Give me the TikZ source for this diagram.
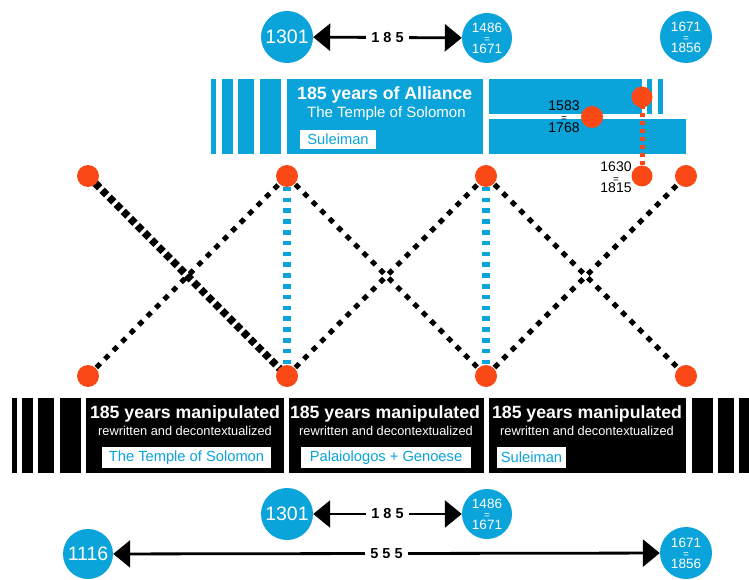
\documentclass[tikz,border=0pt]{standalone}
\usepackage{fontspec}
\setmainfont{Liberation Sans}
\usetikzlibrary{arrows.meta,backgrounds}
\definecolor{sky}{RGB}{10,163,218}
\definecolor{dotred}{RGB}{250,72,22}
\tikzset{
  year/.style={circle,fill=sky,text=white,inner sep=0pt,minimum size=#1,font=\fontsize{19.5}{20}\selectfont},
  year/.default=52pt,
  pair/.style={circle,fill=sky,text=white,inner sep=0pt,minimum size=#1,align=center,font=\fontsize{13.5}{10.5}\selectfont},
  pair/.default=50pt,
  dot/.style={circle,fill=dotred,inner sep=0pt,minimum size=22pt},
  datelbl/.style={inner sep=0pt,align=center,text=black,font=\fontsize{14}{11}\selectfont},
  span/.style={line width=2.8pt,{Triangle[length=17pt,width=27pt]}-{Triangle[length=17pt,width=27pt]}},
  spanlabel/.style={fill=white,inner xsep=5pt,inner ysep=3pt,font=\bfseries\fontsize{14.5}{14}\selectfont},
  head/.style={inner sep=0pt,text=white,font=\bfseries\fontsize{17.7}{18}\selectfont},
  sub/.style={inner sep=0pt,text=white,font=\fontsize{12.8}{13}\selectfont},
  subbig/.style={inner sep=0pt,text=white,font=\fontsize{15}{15}\selectfont},
  tag/.style={fill=white,text=sky,inner sep=0pt,minimum height=21pt,font=\fontsize{14.7}{15}\selectfont},
  heavydots/.style={line width=7.5pt,dash pattern=on 6.5pt off 3.5pt},
  lightdots/.style={line width=5pt,dash pattern=on 5.5pt off 6.5pt},
  bluedash/.style={sky,line width=8pt,dash pattern=on 4.5pt off 6.3pt},
  reddots/.style={dotred,line width=5pt,dash pattern=on 4.5pt off 3.5pt},
}
\newcommand{\eqpair}[2]{#1\\{\fontsize{10}{10}\selectfont =}\\#2}
\begin{document}
\begin{tikzpicture}[x=1pt,y=-1pt]
\useasboundingbox (0,0) rectangle (749,580);

% ---- top year circles and arrow
\node[year] (t1301) at (287,37) {1301};
\node[pair] (t1486) at (487,38) {\eqpair{1486}{1671}};
\node[pair=52pt] (t1671) at (686,37) {\eqpair{1671}{1856}};
\draw[span] (t1301) -- node[spanlabel] (t185) {1 8 5} (t1486);

% ---- top bar texts
\node[head,anchor=base west] (alli) at (297,100) {185 years of Alliance};
\node[subbig,anchor=base west] (templeT) at (307,118) {The Temple of Solomon};
\node[tag,minimum width=76pt,minimum height=19pt] (sulT) at (338,139.5) {Suleiman};

% ---- orange markers in top bar
\node[dot] (p1583) at (592,117) {};
\node[dot,minimum size=21pt] (p1630a) at (642,97) {};
\node[dot,minimum size=21pt] (p1630b) at (642,176) {};
\node[datelbl] (l1583) at (564,116.5) {\eqpair{1583}{1768}};
\node[datelbl,font=\fontsize{14}{10.5}\selectfont] (l1630) at (616,177.5) {\eqpair{1630}{1815}};

% ---- X lattice dots
\node[dot] (u1) at (88,176) {};
\node[dot] (u2) at (287,176) {};
\node[dot] (u3) at (486,176) {};
\node[dot] (u4) at (686,176) {};
\node[dot] (d1) at (88,376) {};
\node[dot] (d2) at (287,376) {};
\node[dot] (d3) at (486,376) {};
\node[dot] (d4) at (686,376) {};

% ---- bottom bar texts
\node[head,anchor=base] (m1) at (185,418) {185 years manipulated};
\node[head,anchor=base] (m2) at (385,418) {185 years manipulated};
\node[head,anchor=base] (m3) at (587,418) {185 years manipulated};
\node[sub,anchor=base] (r1) at (185,435) {rewritten and decontextualized};
\node[sub,anchor=base] (r2) at (386,435) {rewritten and decontextualized};
\node[sub,anchor=base] (r3) at (587,435) {rewritten and decontextualized};
\node[tag,minimum width=169pt] (s1) at (186.5,457.5) {The Temple of Solomon};
\node[tag,minimum width=170pt] (s2) at (386,457.5) {Palaiologos + Genoese};
\node[tag,minimum width=69pt] (s3) at (531.5,457.5) {Suleiman};

% ---- bottom year circles and arrows
\node[year] (b1301) at (287,514) {1301};
\node[pair] (b1486) at (487,514) {\eqpair{1486}{1671}};
\draw[span] (b1301) -- node[spanlabel] (b185) {1 8 5} (b1486);
\node[year=50pt] (b1116) at (88,554) {1116};
\node[pair=52pt] (b1671) at (686,553) {\eqpair{1671}{1856}};
\draw[span] (b1116) -- node[spanlabel] (b555) {5 5 5} (b1671);

\begin{pgfonlayer}{background}
  % top blue bar
  \fill[sky] (211,79) rectangle (216,154);
  \fill[sky] (222,79) rectangle (233,154);
  \fill[sky] (238,79) rectangle (254,154);
  \fill[sky] (260,79) rectangle (281,154);
  \fill[sky] (287,79) rectangle (483,154);
  \fill[sky] (489,79) rectangle (642,114);
  \fill[sky] (647,79) rectangle (652,114);
  \fill[sky] (658,79) rectangle (663,114);
  \fill[sky] (489,119) rectangle (686,154);
  % bottom black bar
  \fill[black] (12,398) rectangle (17,473);
  \fill[black] (22,398) rectangle (33,473);
  \fill[black] (38,398) rectangle (54,473);
  \fill[black] (60,398) rectangle (81,473);
  \fill[black] (86,398) rectangle (284,473);
  \fill[black] (289,398) rectangle (484,473);
  \fill[black] (489,398) rectangle (686,473);
  \fill[black] (692,398) rectangle (713,473);
  \fill[black] (718,398) rectangle (734,473);
  \fill[black] (739,398) rectangle (749,473);
  % connectors
  \draw[heavydots] (u1.center) -- (d2.center);
  \draw[lightdots] (d1.center) -- (u2.center);
  \draw[lightdots] (u2.center) -- (d3.center);
  \draw[lightdots] (d2.center) -- (u3.center);
  \draw[lightdots] (u3.center) -- (d4.center);
  \draw[lightdots] (d3.center) -- (u4.center);
  \draw[bluedash] (u2.center) -- (d2.center);
  \draw[bluedash] (u3.center) -- (d3.center);
  \draw[reddots] (p1630a.center) -- (p1630b.center);
\end{pgfonlayer}
\end{tikzpicture}
\end{document}
